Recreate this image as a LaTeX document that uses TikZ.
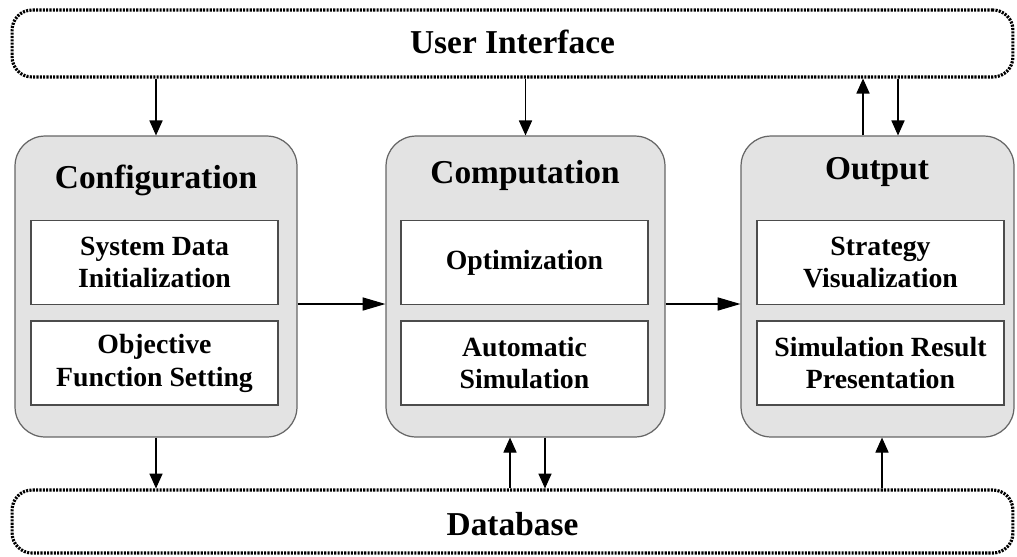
\documentclass[tikz,border=0pt]{standalone}
\usepackage{fontspec}
\setmainfont{Liberation Serif}
\usetikzlibrary{arrows.meta}

\begin{document}
\begin{tikzpicture}[x=0.02cm, y=-0.02cm,
        layerbox/.style={draw=black, line width=1.8pt, dash pattern=on 1.2pt off 0.7pt,
            rounded corners=0.4cm, minimum width=20.02cm, inner sep=0pt},
        outerbox/.style={draw=black!60, fill=black!11, line width=0.7pt,
            rounded corners=0.6cm, minimum height=6.02cm, inner sep=0pt},
        innerbox/.style={draw=black!70, fill=white, line width=0.7pt, align=center,
            minimum width=4.94cm, minimum height=1.68cm, inner sep=0pt,
            font=\fontsize{15.8}{18.7}\selectfont\bfseries},
        title/.style={font=\fontsize{19}{23}\selectfont\bfseries},
        varr/.style={-{Triangle[length=8.5pt, width=7.5pt]}, line width=0.6pt},
        harr/.style={-{Triangle[length=13pt, width=7.5pt]}, line width=0.6pt}]
    \useasboundingbox (0,0) rectangle (1017,556);
    % user interface and database
    \node[layerbox, minimum height=1.34cm] (ui) at (512.5,43.5) {};
    \node[title] at (512.5,42) {User Interface};
    \node[layerbox, minimum height=1.26cm] (db) at (512.5,521.5) {};
    \node[title] at (512.5,524) {Database};
    % modules
    \node[outerbox, minimum width=5.64cm] (config) at (156,286.5) {};
    \node[outerbox, minimum width=5.58cm] (comp) at (525.5,286.5) {};
    \node[outerbox, minimum width=5.46cm] (output) at (877.5,286.5) {};
    \node[title] at (156,180) {Configuration};
    \node[title] at (525,175) {Computation};
    \node[title] at (877,172) {Output};
    % sub-modules
    \node[innerbox] (sysdata) at (154.5,262.5) {System Data\\Initialization};
    \node[innerbox] (objfun) at (154.5,363) {Objective\\Function Setting};
    \node[innerbox] (optim) at (524.5,262.5) {Optimization};
    \node[innerbox] (autosim) at (524.5,363) {Automatic\\Simulation};
    \node[innerbox] (strategy) at (880.5,262.5) {Strategy\\Visualization};
    \node[innerbox] (simresult) at (880.5,363) {Simulation Result\\Presentation};
    % horizontal flow
    \draw[harr] ([yshift=-0.35cm]config.east) -- ([yshift=-0.35cm]config.east -| comp.west);
    \draw[harr] ([yshift=-0.35cm]comp.east) -- ([yshift=-0.35cm]comp.east -| output.west);
    % user interface links
    \draw[varr] (ui.south -| config.north) -- (config.north);
    \draw[varr] (ui.south -| comp.north) -- (comp.north);
    \draw[varr] ([xshift=-0.29cm]output.north) -- ([xshift=-0.29cm]output.north |- ui.south);
    \draw[varr] ([xshift=0.41cm]output.north |- ui.south) -- ([xshift=0.41cm]output.north);
    % database links
    \draw[varr] (config.south) -- (config.south |- db.north);
    \draw[varr] ([xshift=-0.31cm]comp.south |- db.north) -- ([xshift=-0.31cm]comp.south);
    \draw[varr] ([xshift=0.39cm]comp.south) -- ([xshift=0.39cm]comp.south |- db.north);
    \draw[varr] ([xshift=0.09cm]output.south |- db.north) -- ([xshift=0.09cm]output.south);
\end{tikzpicture}
\end{document}
